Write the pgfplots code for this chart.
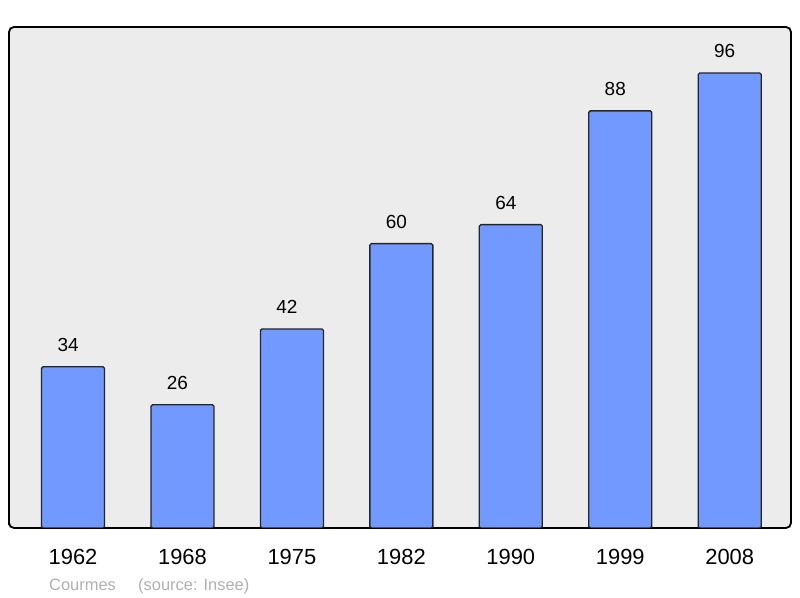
\documentclass[border=0pt]{standalone}
\usepackage{pgfplots}
\pgfplotsset{compat=1.18}
\usepackage{fontspec}
\setmainfont{Liberation Sans}
\definecolor{barblue}{RGB}{114,153,255}
\definecolor{panel}{RGB}{236,236,236}
\definecolor{srcgray}{RGB}{176,176,176}
\begin{document}
\begin{tikzpicture}[x=1bp,y=1bp]
\begin{axis}[
    at={(9bp,70bp)},
    anchor=south west,
    scale only axis,
    width=782bp,
    height=501bp,
    xmin=-0.585, xmax=6.56,
    ymin=0, ymax=105.7,
    /pgf/number format/assume math mode=true,
    axis background/.style={fill=panel},
    axis line style={line width=1.8bp, rounded corners=5bp},
    xtick=data,
    xticklabels={1962,1968,1975,1982,1990,1999,2008},
    xticklabel style={anchor=base, yshift=-37bp, font=\fontsize{22}{26}\selectfont},
    major tick length=0pt,
    ytick=\empty,
    ybar,
    bar width=63bp,
    nodes near coords,
    every node near coord/.append style={anchor=base, yshift=15bp, xshift=-5bp, font=\fontsize{19}{22}\selectfont, text=black},
]
\addplot[fill=barblue, draw=black!85, line width=1.3bp, rounded corners=1.5bp] coordinates {
    (0,34) (1,26) (2,42) (3,60) (4,64) (5,88) (6,96)
};
\end{axis}
\node[anchor=base west, text=srcgray, font=\fontsize{16.5}{19}\selectfont, inner sep=0pt] at (49bp,8bp) {Courmes};
\node[anchor=base west, text=srcgray, font=\fontsize{16.5}{19}\selectfont, inner sep=0pt] at (138bp,8bp) {(source: Insee)};
\path[use as bounding box] (0,0) rectangle (800bp,598bp);
\end{tikzpicture}
\end{document}
